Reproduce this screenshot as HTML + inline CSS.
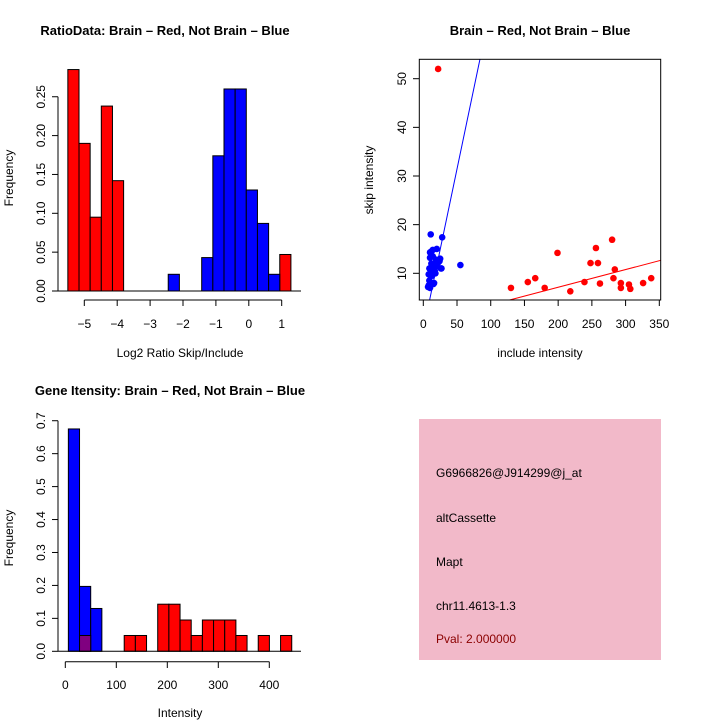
<!DOCTYPE html>
<html><head><meta charset="utf-8"><style>
body{margin:0;background:#fff}
svg{display:block;font-family:"Liberation Sans",sans-serif}
</style></head><body>
<svg id="s" width="720" height="720" viewBox="0 0 720 720">
<g id="p1"></g>
<g id="p2"></g>
<g id="p3"></g>
<g>
<rect x="419" y="419" width="242" height="241" fill="#f2b9c9"/>
<text x="436" y="477" font-size="12">G6966826@J914299@j_at</text>
<text x="436" y="522" font-size="12">altCassette</text>
<text x="436" y="566" font-size="12">Mapt</text>
<text x="436" y="610" font-size="12">chr11.4613-1.3</text>
<text x="436" y="643" font-size="12" fill="#8b0000">Pval: 2.000000</text>
</g>
</svg>
<script>
const NS="http://www.w3.org/2000/svg";
function mk(p,t,a){const e=document.createElementNS(NS,t);for(const k in a)e.setAttribute(k,a[k]);p.appendChild(e);return e;}
// ---------- Plot 1 data ----------
const ratioBinStart=-5.5, ratioBinWidth=0.339;
const ratioRed=[0.285,0.19,0.095,0.238,0.142,0,0,0,0,0,0,0,0,0,0,0,0,0,0,0.047];
const ratioBlue=[0,0,0,0,0,0,0,0,0,0.0215,0,0,0.043,0.174,0.26,0.26,0.13,0.087,0.0215,0];
const ratioXTicks=[-5,-4,-3,-2,-1,0,1];
const ratioYTicks=[0,0.05,0.10,0.15,0.20,0.25];
const ratioYLabels=["0.00","0.05","0.10","0.15","0.20","0.25"];
// ---------- Plot 2 data ----------
const redX=[22,130,155,166,180,199,218,239,248,256,259,262,280,282,284,293,293,305,307,326,338];
const redY=[52,7,8.2,9,7,14.2,6.3,8.2,12.1,15.2,12.1,7.9,16.9,9,10.8,8,7,7.7,6.8,8,9];
const blueX=[11,28,55,20,10,14,8,10,25,22,27,12,15,18,8,10,12,16,9,13,17,20,24,11,7,15,19,14,9,26,18,12];
const blueY=[18,17.4,11.7,15,14.3,14.8,9.8,13.2,13,12.2,11,12,11,10,7.5,7,8,8,8.5,9.5,10.5,11.5,12.5,10,7.2,7.8,12.8,13.5,11,11,12,14.5];
const redFit=[-0.15,0.0364], blueFit=[-1.7,0.663];
const scatXTicks=[0,50,100,150,200,250,300,350];
const scatYTicks=[10,20,30,40,50];
// ---------- Plot 3 data ----------
const geneBinStart=6, geneBinWidth=21.9;
const geneBlue=[0.675,0.197,0.13];
const geneRed=[0,0.048,0,0,0,0.048,0.048,0,0.143,0.143,0.095,0.048,0.095,0.095,0.095,0.048,0,0.048,0,0.048];
const geneXTicks=[0,100,200,300,400];
const geneYTicks=[0,0.1,0.2,0.3,0.4,0.5,0.6,0.7];
const geneYLabels=["0.0","0.1","0.2","0.3","0.4","0.5","0.6","0.7"];

function text(g,x,y,s,opt={}){const t=mk(g,'text',{x:x,y:y,'font-size':opt.size||12,'text-anchor':opt.anchor||'middle'});
 if(opt.bold)t.setAttribute('font-weight','bold');if(opt.rot)t.setAttribute('transform',`rotate(-90 ${x} ${y})`);t.textContent=s;return t;}
function line(g,x1,y1,x2,y2,c='#000'){return mk(g,'line',{x1,y1,x2,y2,stroke:c,'stroke-width':1});}

// ---- Plot 1 ----
(function(){const g=document.getElementById('p1');
 const S=32.9, X=v=>84.3+(v+5)*S, Y=v=>291-v*777;
 ratioRed.forEach((h,i)=>{if(h>0){const r=mk(g,'rect',{x:X(ratioBinStart+i*ratioBinWidth),y:Y(h),width:ratioBinWidth*S,height:h*777,fill:'#f00',stroke:'#000'});
  }});
 ratioBlue.forEach((h,i)=>{if(h>0){const r=mk(g,'rect',{x:X(ratioBinStart+i*ratioBinWidth),y:Y(h),width:ratioBinWidth*S,height:h*777,fill:'#00f',stroke:'#000'});
  }});
 line(g,58,291,301,291);
 line(g,X(-5),300,X(1),300);
 ratioXTicks.forEach(v=>{line(g,X(v),300,X(v),306);text(g,X(v),328,v<0?'\u2212'+(-v):String(v));});
 line(g,58,Y(0),58,Y(0.25));
 ratioYTicks.forEach((v,i)=>{line(g,52,Y(v),58,Y(v));text(g,45,Y(v),ratioYLabels[i],{rot:1});});
 text(g,165,35,'RatioData: Brain \u2013 Red, Not Brain \u2013 Blue',{bold:1,size:13});
 text(g,180,357,'Log2 Ratio Skip/Include');
 text(g,13,178,'Frequency',{rot:1});
})();
// ---- Plot 2 ----
(function(){const g=document.getElementById('p2');
 const X=v=>423.3+v*0.6743, Y=v=>273.3-(v-10)*4.865;
 const cp=mk(g,'clipPath',{id:'cp2'});mk(cp,'rect',{x:419.3,y:59.3,width:241.4,height:240.7});
 const inner=mk(g,'g',{'clip-path':'url(#cp2)'});
 let l=line(inner,X(0),Y(blueFit[0]),X(100),Y(blueFit[0]+100*blueFit[1]),'#00f');
 
 l=line(inner,X(0),Y(redFit[0]),X(400),Y(redFit[0]+400*redFit[1]),'#f00');
 
 blueX.forEach((x,i)=>{const c=mk(inner,'circle',{cx:X(x),cy:Y(blueY[i]),r:3.3,fill:'#00f'});
  });
 redX.forEach((x,i)=>{const c=mk(inner,'circle',{cx:X(x),cy:Y(redY[i]),r:3.3,fill:'#f00'});
  });
 mk(g,'rect',{x:419.3,y:59.3,width:241.4,height:240.7,fill:'none',stroke:'#000'});
 scatXTicks.forEach(v=>{line(g,X(v),300,X(v),306);text(g,X(v),328,String(v));});
 scatYTicks.forEach(v=>{line(g,413,Y(v),419.3,Y(v));text(g,406,Y(v),String(v),{rot:1});});
 text(g,540,35,'Brain \u2013 Red, Not Brain \u2013 Blue',{bold:1,size:13});
 text(g,540,357,'include intensity');
 text(g,373,180,'skip intensity',{rot:1});
})();
// ---- Plot 3 ----
(function(){const g=document.getElementById('p3');
 const X=v=>65.3+v*0.51, Y=v=>651.3-v*329.4;
 geneBlue.forEach((h,i)=>{const r=mk(g,'rect',{x:X(geneBinStart+i*geneBinWidth),y:Y(h),width:geneBinWidth*0.51,height:h*329.4,fill:'#00f',stroke:'#000'});
  });
 geneRed.forEach((h,i)=>{if(h>0){const ov=i<geneBlue.length&&geneBlue[i]>0;
  const r=mk(g,'rect',{x:X(geneBinStart+i*geneBinWidth),y:Y(h),width:geneBinWidth*0.51,height:h*329.4,fill:ov?'#800080':'#f00',stroke:'#000'});
  }});
 line(g,58,651.3,301,651.3);
 line(g,X(0),661.7,X(400),661.7);
 geneXTicks.forEach(v=>{line(g,X(v),661.7,X(v),668);text(g,X(v),689,String(v));});
 line(g,58,Y(0),58,Y(0.7));
 geneYTicks.forEach((v,i)=>{line(g,52,Y(v),58,Y(v));text(g,45,Y(v),geneYLabels[i],{rot:1});});
 text(g,170,395,'Gene Itensity: Brain \u2013 Red, Not Brain \u2013 Blue',{bold:1,size:13});
 text(g,180,717,'Intensity');
 text(g,13,538,'Frequency',{rot:1});
})();
</script>
</body></html>
